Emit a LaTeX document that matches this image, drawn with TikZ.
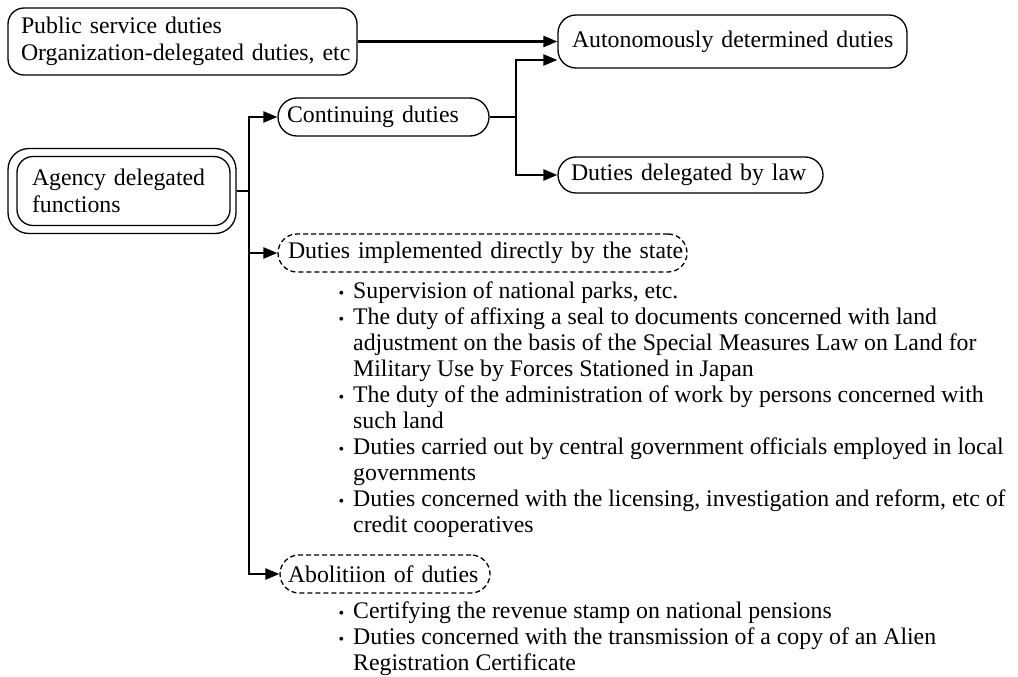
\documentclass[tikz,border=0pt]{standalone}
\usepackage{fontspec}
\setmainfont{Liberation Serif}
\usetikzlibrary{arrows.meta}
\tikzset{
  box/.style={draw, line width=1.3pt, rounded corners=16pt, inner ysep=0pt, align=left, anchor=center},
  dbox/.style={box, dash pattern=on 5pt off 3pt, rounded corners=19pt},
  conn/.style={line width=2.5pt},
  arr/.style={conn, -{Triangle[length=14pt,width=11pt]}},
  txt/.style={font=\fontsize{23.8}{27}\selectfont},
  listtxt/.style={font=\fontsize{23.8}{26}\selectfont, inner sep=0pt, align=left, anchor=north west}
}
\newcommand{\bul}{\makebox[15pt][l]{\hspace*{0.5pt}\raisebox{0.6pt}{\fontsize{16}{16}\selectfont •}}}
\newcommand{\ind}{\hspace*{15pt}}
\begin{document}
\begin{tikzpicture}[x=1pt,y=-1pt]
\useasboundingbox (0,0) rectangle (1018,677);

\node[box, txt, inner xsep=13pt, text width=323pt, minimum height=67pt] (public) at (182.5,41.5)
  {\mbox{Public service duties}\\\mbox{Organization-delegated duties, etc}};
\node[box, txt, inner xsep=14pt, text width=321pt, minimum height=53pt, rounded corners=18pt] (auto) at (732.5,41.5)
  {\mbox{Autonomously determined duties}};
\node[box, txt, inner xsep=9pt, text width=193pt, minimum height=38pt, rounded corners=19pt] (cont) at (383.5,117)
  {\mbox{Continuing duties}};
\node[box, txt, inner xsep=13pt, text width=239pt, minimum height=36pt, rounded corners=18pt] (law) at (690.5,175)
  {\mbox{Duties delegated by law}};
\node[box, txt, inner xsep=15pt, text width=183pt, minimum height=69pt] (agency) at (123.5,191)
  {\mbox{Agency delegated}\\\mbox{functions}};
\node[draw, line width=1.3pt, rounded corners=21pt, minimum width=228pt, minimum height=85pt] (agencyframe) at (122,191) {};
\node[dbox, txt, inner xsep=10pt, text width=389pt, minimum height=38pt] (state) at (482.5,253)
  {\mbox{Duties implemented directly by the state}};
\node[dbox, txt, inner xsep=8pt, text width=194pt, minimum height=38pt] (abol) at (385,574)
  {\mbox{Abolitiion of duties}};

\node[listtxt] (list1) at (338,282) {%
\bul Supervision of national parks, etc.\\
\bul The duty of affixing a seal to documents concerned with land\\
\ind adjustment on the basis of the Special Measures Law on Land for\\
\ind Military Use by Forces Stationed in Japan\\
\bul The duty of the administration of work by persons concerned with\\
\ind such land\\
\bul Duties carried out by central government officials employed in local\\
\ind governments\\
\bul Duties concerned with the licensing, investigation and reform, etc of\\
\ind credit cooperatives};

\node[listtxt] (list2) at (338,602) {%
\bul Certifying the revenue stamp on national pensions\\
\bul Duties concerned with the transmission of a copy of an Alien\\
\ind Registration Certificate};

\coordinate (j1) at (516,60);
\coordinate (sp) at (249,191);

\draw[arr] (public.east) -- (auto.west);
\draw[arr] (cont.east) -| (j1) -- (j1 -| auto.west);
\draw[arr] (cont.east) -| (law.west -| j1) -- (law.west);

\draw[arr] (agencyframe.east) -| (cont.west -| sp) -- (cont.west);
\draw[arr] (agencyframe.east) -| (state.west -| sp) -- (state.west);
\draw[arr] (agencyframe.east) -| (abol.west -| sp) -- (abol.west);
\end{tikzpicture}
\end{document}
